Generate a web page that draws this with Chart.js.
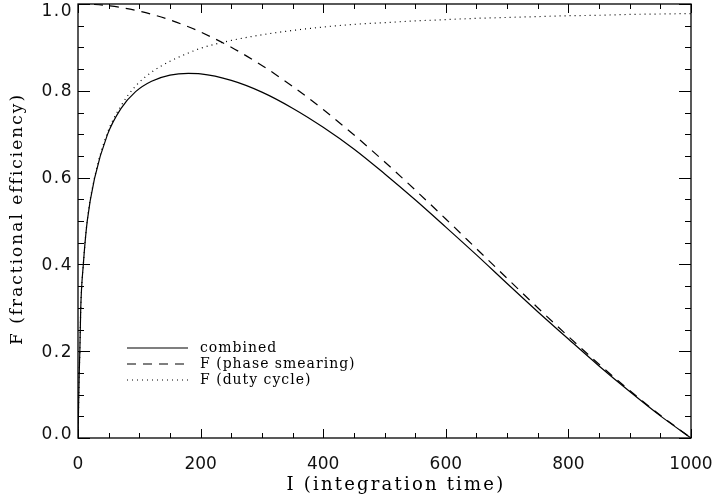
<!DOCTYPE html>
<html>
<head>
<meta charset="utf-8">
<script src="https://cdn.jsdelivr.net/npm/chart.js@4/dist/chart.umd.min.js"></script>
<style>
html,body{margin:0;padding:0;background:#fff;}
#wrap{width:715px;height:503px;position:relative;}
</style>
</head>
<body>
<div id="wrap"><canvas id="c" width="715" height="503"></canvas></div>
<script>
// Integration time samples (x)
const integrationTime = [0, 2, 3, 4.5, 8.7, 15, 27, 48, 70, 94, 120, 150, 180, 200, 250, 300, 350, 400, 450, 500, 550, 600, 650, 700, 750, 800, 850, 900, 950, 1000];
// Series values
const combined = [0, 0.15, 0.20, 0.30, 0.40, 0.499, 0.598, 0.699, 0.759, 0.798, 0.822, 0.836, 0.840, 0.839, 0.824, 0.797, 0.760, 0.716, 0.666, 0.609, 0.549, 0.486, 0.422, 0.356, 0.291, 0.228, 0.166, 0.107, 0.051, 0];
const phaseSmearing = [1.0, 1.0, 1.0, 1.0, 0.9999, 0.9996, 0.9988, 0.9962, 0.992, 0.9855, 0.9764, 0.9634, 0.9475, 0.9355, 0.9003, 0.8584, 0.8103, 0.7568, 0.6986, 0.6366, 0.5716, 0.5046, 0.4363, 0.3679, 0.3001, 0.2339, 0.170, 0.1093, 0.0524, 0];
const dutyCycle = [0, 0.15, 0.20, 0.30, 0.40, 0.50, 0.60, 0.703, 0.765, 0.811, 0.843, 0.868, 0.887, 0.898, 0.916, 0.929, 0.939, 0.947, 0.953, 0.957, 0.961, 0.964, 0.967, 0.969, 0.971, 0.973, 0.974, 0.976, 0.977, 0.978];
const seriesLabels = ['combined', 'F (phase smearing)', 'F (duty cycle)'];
const xTicks = [0, 200, 400, 600, 800, 1000];
const yTicks = [0.0, 0.2, 0.4, 0.6, 0.8, 1.0];
const xTitle = 'I (integration time)';
const yTitle = 'F (fractional efficiency)';

function pts(ys){ return integrationTime.map((x,i)=>({x:x,y:ys[i]})); }

const tickFont = {family:'DejaVu Sans', size:17};

const boxTicks = {
  id:'boxTicks',
  afterDatasetsDraw(chart){
    const ctx = chart.ctx, a = chart.chartArea;
    const xs = chart.scales.x, ys = chart.scales.y;
    ctx.save();
    ctx.strokeStyle = '#000';
    ctx.lineWidth = 1.3;
    ctx.strokeRect(a.left, a.top, a.right-a.left, a.bottom-a.top);
    ctx.lineWidth = 1;
    ctx.beginPath();
    for(let v=0; v<=1000; v+=50){
      const px = Math.round(xs.getPixelForValue(v))+0.5;
      const L = (v%200===0)?9:5;
      ctx.moveTo(px,a.bottom); ctx.lineTo(px,a.bottom-L);
      ctx.moveTo(px,a.top); ctx.lineTo(px,a.top+L);
    }
    for(let k=0; k<=20; k++){
      const v = k*0.05;
      const py = Math.round(ys.getPixelForValue(v))+0.5;
      const L = (k%4===0)?12:6;
      ctx.moveTo(a.left,py); ctx.lineTo(a.left+L,py);
      ctx.moveTo(a.right,py); ctx.lineTo(a.right-L,py);
    }
    ctx.stroke();

    // y tick labels (positions from the y scale, kept inside the frame at the ends)
    ctx.fillStyle = '#111';
    ctx.font = '17px "DejaVu Sans"';
    ctx.textAlign = 'right';
    ctx.textBaseline = 'middle';
    ctx.letterSpacing = '1.5px';
    ys.ticks.forEach(t=>{
      let py = ys.getPixelForValue(t.value);
      py = Math.min(Math.max(py, a.top+7), a.bottom-4);
      ctx.fillText(Number(t.value).toFixed(1), a.left-5, py+1);
    });

    // legend
    const dashes = [[], [9,7], [1,4]];
    const rows = [348, 364, 380];
    ctx.font = '14px "DejaVu Serif"';
    ctx.letterSpacing = '1px';
    ctx.fillStyle = '#000';
    ctx.textAlign = 'left';
    ctx.textBaseline = 'middle';
    for(let i=0;i<3;i++){
      ctx.beginPath();
      ctx.setLineDash(dashes[i]);
      ctx.lineWidth = 1.2;
      ctx.moveTo(127, rows[i]); ctx.lineTo(188, rows[i]);
      ctx.stroke();
      ctx.setLineDash([]);
      ctx.fillText(chart.data.datasets[i].label, 200, rows[i]);
    }

    // axis titles
    ctx.textAlign = 'center';
    ctx.textBaseline = 'middle';
    ctx.font = '18px "DejaVu Serif"';
    ctx.letterSpacing = '2.2px';
    ctx.fillText(xTitle, 396, 485);
    ctx.save();
    ctx.translate(18, (a.top+a.bottom)/2 - 2);
    ctx.rotate(-Math.PI/2);
    ctx.font = '17px "DejaVu Serif"';
    ctx.letterSpacing = '2px';
    ctx.fillText(yTitle, 0, 0);
    ctx.restore();
    ctx.restore();
  }
};

new Chart(document.getElementById('c'), {
  type:'line',
  data:{
    datasets:[
      {label:seriesLabels[0], data:pts(combined), borderColor:'#000', borderWidth:1.2, pointRadius:0, cubicInterpolationMode:'monotone', fill:false},
      {label:seriesLabels[1], data:pts(phaseSmearing), borderColor:'#000', borderWidth:1.2, borderDash:[9,7], pointRadius:0, cubicInterpolationMode:'monotone', fill:false},
      {label:seriesLabels[2], data:pts(dutyCycle), borderColor:'#000', borderWidth:1.2, borderDash:[1,4], pointRadius:0, cubicInterpolationMode:'monotone', fill:false}
    ]
  },
  options:{
    responsive:false,
    animation:false,
    events:[],
    layout:{padding:{top:4,right:24,left:0,bottom:0}},
    plugins:{legend:{display:false}, tooltip:{enabled:false}},
    scales:{
      x:{
        type:'linear', min:0, max:1000,
        afterBuildTicks(s){ s.ticks = xTicks.map(v=>({value:v})); },
        ticks:{font:tickFont, color:'#111', padding:16, maxRotation:0, autoSkip:false, callback:v=>String(v)},
        grid:{display:false, drawTicks:false},
        border:{display:false},
        title:{display:false},
        afterFit(s){ s.height = 65; s.paddingLeft=0; s.paddingRight=0; }
      },
      y:{
        type:'linear', min:0, max:1,
        afterBuildTicks(s){ s.ticks = yTicks.map(v=>({value:v})); },
        ticks:{display:false},
        grid:{display:false, drawTicks:false},
        border:{display:false},
        title:{display:false},
        afterFit(s){ s.width = 78; s.paddingTop=0; s.paddingBottom=0; }
      }
    }
  },
  plugins:[boxTicks]
});
</script>
</body>
</html>
